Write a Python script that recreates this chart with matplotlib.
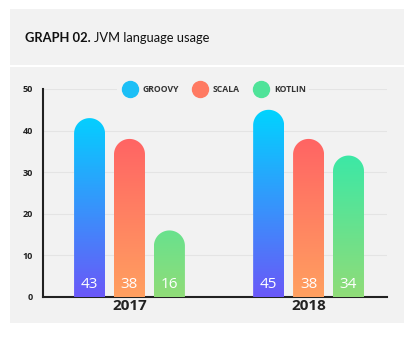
import numpy as np
import matplotlib.pyplot as plt
from matplotlib.patches import Rectangle, PathPatch
from matplotlib.path import Path
from matplotlib.colors import LinearSegmentedColormap

years = ["2017", "2018"]
languages = ["GROOVY", "SCALA", "KOTLIN"]
groovy = [43, 45]
scala = [38, 38]
kotlin = [16, 34]
values = [groovy, scala, kotlin]

# (top colour, bottom colour) for each language's gradient
grad_colors = [("#00d4ff", "#6a58f8"), ("#ff6464", "#ffa060"), ("#3ce8a6", "#90dc78")]
legend_colors = ["#1cbff6", "#ff7a62", "#4fe399"]

W, H = 414, 338
panel = "#f2f2f2"
dark = "#222222"

fig = plt.figure(figsize=(W / 100, H / 100), dpi=100, facecolor="white")

# grey panels (header and chart), in pixel terms
def px_rect(x0, y0, x1, y1, **kw):
    return Rectangle((x0 / W, 1 - y1 / H), (x1 - x0) / W, (y1 - y0) / H,
                     transform=fig.transFigure, zorder=-10, **kw)

fig.patches.append(px_rect(10, 9, 404, 65, facecolor=panel, edgecolor="none"))
fig.patches.append(px_rect(10, 67, 404, 323, facecolor=panel, edgecolor="none"))

t1 = fig.text(25 / W, 1 - 38 / H, "GRAPH 02.", fontfamily="Lato", fontweight="bold",
              fontsize=9.3, color="#111111", va="center")
fig.canvas.draw()
fig.text(t1.get_window_extent().x1 / W + 3 / W, 1 - 38 / H, "JVM language usage",
         fontfamily="Lato", fontsize=9.3, color="#111111", va="center")

ax_l, ax_r, ax_t, ax_b = 43, 387, 89, 297
ax = fig.add_axes([ax_l / W, 1 - ax_b / H, (ax_r - ax_l) / W, (ax_b - ax_t) / H])
ax.set_facecolor("none")

xmin, xmax = -0.483, 1.438
ax.set_xlim(xmin, xmax)
ax.set_ylim(0, 50)

offset = 0.223
width = 0.173
px_per_x = (ax_r - ax_l) / (xmax - xmin)
px_per_y = (ax_b - ax_t) / 50.0
rx = width / 2
ry = rx * px_per_x / px_per_y

for i, series in enumerate(values):
    top_c, bot_c = grad_colors[i]
    cmap = LinearSegmentedColormap.from_list("g%d" % i, [bot_c, top_c])
    smax = max(series)
    for j, v in enumerate(series):
        xc = j + (i - 1) * offset
        x0, x1 = xc - rx, xc + rx
        theta = np.linspace(0, np.pi, 60)
        arc = np.column_stack([xc + rx * np.cos(theta), v - ry + ry * np.sin(theta)])
        verts = np.vstack([[x0, 0], [x1, 0], arc, [x0, 0]])
        codes = [Path.MOVETO] + [Path.LINETO] * (len(verts) - 2) + [Path.CLOSEPOLY]
        clip = PathPatch(Path(verts, codes), transform=ax.transData,
                         facecolor="none", edgecolor="none")
        ax.add_patch(clip)
        grad = np.linspace(0, v / smax, 256).reshape(-1, 1)
        im = ax.imshow(grad, extent=[x0, x1, 0, v], origin="lower", aspect="auto",
                       cmap=cmap, vmin=0, vmax=1, zorder=3)
        im.set_clip_path(clip)
        ax.text(xc, 2.9, str(v), ha="center", va="center", color="white",
                fontsize=11, fontfamily="Open Sans", zorder=4)

ax.set_xlim(xmin, xmax)
ax.set_ylim(0, 50)

for y in range(10, 51, 10):
    ax.axhline(y, color="#e4e4e4", lw=0.8, zorder=1)

ax.set_yticks(range(0, 51, 10))
ax.set_yticklabels([str(t) for t in range(0, 51, 10)], fontsize=6.5,
                   fontweight="bold", color=dark, fontfamily="Open Sans")
ax.set_xticks(range(len(years)))
ax.set_xticklabels(years, fontsize=11, fontweight="bold", color=dark,
                   fontfamily="Open Sans")
ax.tick_params(axis="y", length=0, pad=7)
ax.tick_params(axis="x", length=0, pad=1.5)
for s in ["top", "right"]:
    ax.spines[s].set_visible(False)
for s in ["left", "bottom"]:
    ax.spines[s].set_color(dark)
    ax.spines[s].set_linewidth(1.5)

# legend on the top gridline
ax.add_patch(Rectangle(((117 - ax_l) / (ax_r - ax_l), 0.95), (309 - 117) / (ax_r - ax_l), 0.1,
                       transform=ax.transAxes, facecolor=panel, edgecolor="none",
                       clip_on=False, zorder=2))
leg_x = [130, 200, 261]
for k, name in enumerate(languages):
    fx = (leg_x[k] - ax_l) / (ax_r - ax_l)
    ax.plot([fx], [1.0], "o", ms=11.5, color=legend_colors[k], transform=ax.transAxes,
            clip_on=False, zorder=5)
    ax.text(fx + 13 / (ax_r - ax_l), 1.0, name, transform=ax.transAxes, ha="left",
            va="center", fontsize=6.2, fontweight="bold", color="#333333",
            fontfamily="Open Sans", zorder=5)

fig.savefig("out.png", dpi=100, facecolor="white")
